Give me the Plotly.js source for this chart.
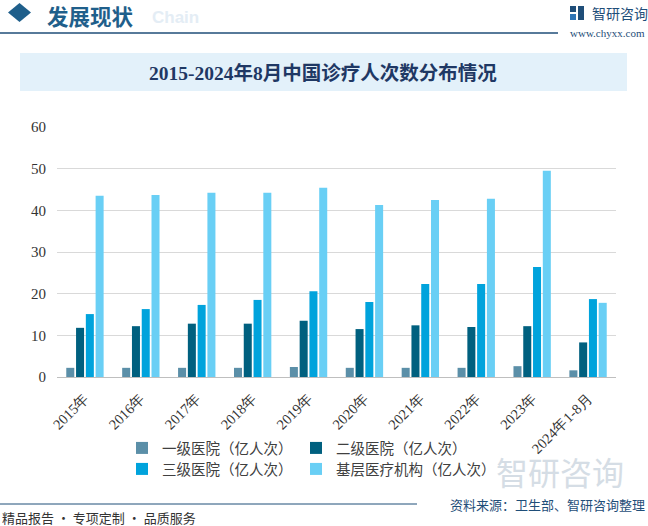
<!DOCTYPE html>
<html><head><meta charset="utf-8">
<script src="https://cdn.plot.ly/plotly-3.0.1.min.js"></script>
<style>html,body{margin:0;padding:0;background:#fff;}#chart{width:648px;height:526px;}</style>
</head><body><div id="chart"></div>
<script>
var categories = ["2015年","2016年","2017年","2018年","2019年","2020年","2021年","2022年","2023年","2024年1-8月"];
var level1 = [2.2, 2.2, 2.2, 2.2, 2.4, 2.2, 2.2, 2.2, 2.6, 1.6];
var level2 = [11.8, 12.2, 12.8, 12.8, 13.5, 11.5, 12.4, 12.0, 12.2, 8.3];
var level3 = [15.1, 16.3, 17.3, 18.5, 20.6, 18.0, 22.3, 22.3, 26.4, 18.7];
var primary = [43.5, 43.7, 44.2, 44.2, 45.4, 41.3, 42.5, 42.8, 49.5, 17.8];
var seriesNames = ["一级医院（亿人次）","二级医院（亿人次）","三级医院（亿人次）","基层医疗机构（亿人次）"];
var yTicks = [0,10,20,30,40,50,60];

var L = 57, R = 616, T = 127, B = 377;
function px(x){ return (x - L) / (R - L); }
function py(y){ return (B - y) / (B - T); }

var cjk = '"Noto Sans CJK SC", "Noto Sans", sans-serif';
var serif = '"Liberation Serif", "DejaVu Serif", serif';
var colors = ["#5B8FA8", "#00607F", "#00A3DC", "#69CFF5"];
var legendIds = ['legend', 'legend2', 'legend3', 'legend4'];
var data = [level1, level2, level3, primary].map(function(v, i){
  return {type:'bar', x:categories, y:v, name:seriesNames[i], marker:{color:colors[i]},
          legend: legendIds[i], hoverinfo:'skip'};
});

function leg(xText, yMid){
  return {orientation:'h', xanchor:'left', yanchor:'middle', x:px(xText - 40), y:py(yMid),
    font:{family:cjk, size:14.5, color:'#404040'}, bgcolor:'rgba(0,0,0,0)', itemwidth:30};
}

var layout = {
  width:648, height:526, margin:{l:L, r:648-R, t:T, b:526-B, pad:0},
  paper_bgcolor:'#fff', plot_bgcolor:'#fff',
  barmode:'group', bargap:0.3, bargroupgap:0.18,
  showlegend:true,
  legend: leg(162, 448),
  legend2: leg(336, 448),
  legend3: leg(162, 469),
  legend4: leg(336, 469),
  xaxis:{tickangle:-45, tickfont:{family:serif, size:14.5, color:'#333333'}, showgrid:false, ticklabelstandoff:6,
         showline:true, linecolor:'#BFBFBF', linewidth:1, ticks:'', fixedrange:true},
  yaxis:{range:[0,60], tickvals:yTicks, ticktext:yTicks.map(String), tickfont:{family:serif, size:15, color:'#333333'},
         ticklabelstandoff:10, showgrid:true, gridcolor:'#D9D9D9', gridwidth:1, zeroline:false, showline:false, ticks:'', fixedrange:true},
  shapes:[
    {type:'rect', xref:'paper', yref:'paper', x0:px(20), x1:px(627), y0:py(53), y1:py(91), fillcolor:'#E3F1FA', line:{width:0}, layer:'below'},
    {type:'line', xref:'paper', yref:'paper', x0:px(0), x1:px(558), y0:py(33), y1:py(33), line:{color:'#1F4E79', width:1.5}},
    {type:'line', xref:'paper', yref:'paper', x0:px(0), x1:px(417), y0:py(504), y1:py(504), line:{color:'#1F4E79', width:1}},
    {type:'path', xref:'paper', yref:'paper', path:'M'+px(19.5)+','+py(3)+' L'+px(31)+','+py(12.5)+' L'+px(19.5)+','+py(22)+' L'+px(8)+','+py(12.5)+' Z', fillcolor:'#1F5F8B', line:{width:0}},
    {type:'rect', xref:'paper', yref:'paper', x0:px(570), x1:px(576), y0:py(6), y1:py(12), fillcolor:'#1F4E79', line:{width:0}},
    {type:'rect', xref:'paper', yref:'paper', x0:px(578), x1:px(584), y0:py(6), y1:py(20), fillcolor:'#1F4E79', line:{width:0}},
    {type:'rect', xref:'paper', yref:'paper', x0:px(570), x1:px(576), y0:py(14), y1:py(20), fillcolor:'#2E75B6', line:{width:0}}
  ],
  annotations:[
    {text:'<b>Chain</b>', xref:'paper', yref:'paper', x:px(150), y:py(17), xanchor:'left', yanchor:'middle', showarrow:false, font:{family:'"Liberation Sans", Arial, sans-serif', size:17, color:'#E4EDF5'}},
    {text:'<b>发展现状</b>', xref:'paper', yref:'paper', x:px(46), y:py(15.5), xanchor:'left', yanchor:'middle', showarrow:false, borderpad:0, font:{family:cjk, size:21.5, color:'#1F5F8B'}},
    {text:'智研咨询', xref:'paper', yref:'paper', x:px(590), y:py(13), xanchor:'left', yanchor:'middle', showarrow:false, font:{family:cjk, size:14, color:'#1F4E79'}},
    {text:'www.chyxx.com', xref:'paper', yref:'paper', x:px(647), y:py(33), xanchor:'right', yanchor:'middle', showarrow:false, font:{family:serif, size:11, color:'#1F4E79'}},
    {text:'<b>2015-2024年8月中国诊疗人次数分布情况</b>', xref:'paper', yref:'paper', x:px(323), y:py(73), xanchor:'center', yanchor:'middle', showarrow:false, font:{family:serif+', '+cjk, size:19.5, color:'#1F3864'}},
    {text:'智研咨询', xref:'paper', yref:'paper', x:px(560), y:py(471), xanchor:'center', yanchor:'middle', showarrow:false, font:{family:cjk, size:32, color:'#D5DDE5'}},
    {text:'资料来源：卫生部、智研咨询整理', xref:'paper', yref:'paper', x:px(647), y:py(504), xanchor:'right', yanchor:'middle', showarrow:false, font:{family:cjk, size:13, color:'#1F4E79'}},
    {text:'精品报告 · 专项定制 · 品质服务', xref:'paper', yref:'paper', x:px(0), y:py(517), xanchor:'left', yanchor:'middle', showarrow:false, font:{family:cjk, size:13, color:'#333333'}}
  ]
};
Plotly.newPlot('chart', data, layout, {displayModeBar:false, staticPlot:true});
</script></body></html>
